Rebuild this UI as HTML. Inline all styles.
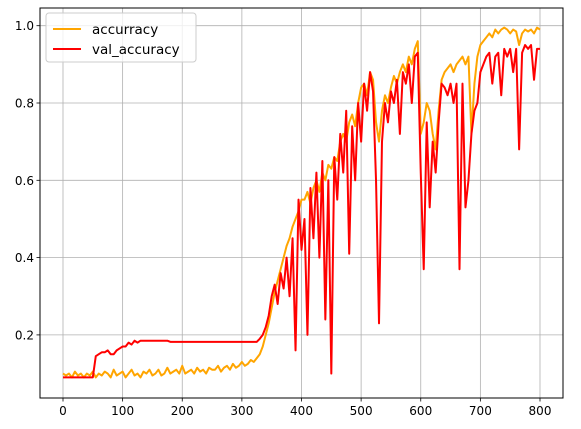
<!DOCTYPE html>
<html><head><meta charset="utf-8"><style>
body{margin:0;background:#fff}
svg{display:block;font-family:"DejaVu Sans","Liberation Sans",sans-serif}
</style></head><body>
<svg id="chart" width="581" height="429" viewBox="0 0 581 429"></svg>
<script>
const epochs=[];for(let e=0;e<=800;e+=5)epochs.push(e);
const accuracy=[0.10,0.095,0.10,0.09,0.105,0.095,0.10,0.09,0.10,0.095,0.105,
0.09,0.10,0.095,0.105,0.10,0.09,0.11,0.095,0.10,0.105,0.09,0.10,0.11,0.095,0.10,0.09,0.105,0.10,0.11,0.095,
0.10,0.11,0.095,0.10,0.115,0.10,0.105,0.11,0.10,0.12,0.10,0.105,0.11,0.10,0.115,0.105,0.11,0.10,0.115,0.11,
0.11,0.12,0.105,0.115,0.12,0.11,0.125,0.115,0.12,0.13,0.12,0.125,0.135,0.13,0.14,0.15,
0.17,0.20,0.23,0.27,0.31,0.34,0.37,0.40,0.43,0.45,0.48,0.50,0.52,0.55,
0.55,0.57,0.54,0.58,0.60,0.57,0.62,0.60,0.64,0.63,0.66,0.65,0.70,0.72,0.70,0.75,0.77,0.74,0.80,0.84,
0.85,0.82,0.88,0.86,0.75,0.70,0.78,0.82,0.80,0.84,0.87,0.85,0.88,0.90,0.88,0.92,0.90,0.94,0.96,0.72,
0.75,0.80,0.78,0.72,0.68,0.78,0.86,0.88,0.89,0.90,0.88,0.90,0.91,0.92,0.90,0.92,0.72,0.85,0.92,0.95,
0.96,0.97,0.98,0.97,0.99,0.98,0.99,0.995,0.99,0.98,0.99,0.985,0.95,0.98,0.99,0.985,0.99,0.98,0.995,0.99];
const valAccuracy=[0.09,0.09,0.09,0.09,0.09,0.09,0.09,0.09,0.09,0.09,0.09,
0.145,0.15,0.155,0.155,0.16,0.15,0.15,0.16,0.165,0.17,0.17,0.18,0.175,0.185,0.18,0.185,0.185,0.185,0.185,0.185,
0.185,0.185,0.185,0.185,0.185,0.182,0.182,0.182,0.182,0.182,0.182,0.182,0.182,0.182,0.182,0.182,0.182,0.182,0.182,0.182,
0.182,0.182,0.182,0.182,0.182,0.182,0.182,0.182,0.182,0.182,0.182,0.182,0.182,0.182,0.182,0.19,
0.20,0.22,0.25,0.30,0.33,0.28,0.36,0.32,0.40,0.30,0.45,0.16,0.55,0.42,
0.50,0.20,0.58,0.45,0.62,0.40,0.65,0.24,0.60,0.10,0.66,0.55,0.72,0.62,0.78,0.41,0.74,0.60,0.80,0.70,
0.85,0.78,0.88,0.83,0.60,0.23,0.70,0.80,0.75,0.83,0.80,0.86,0.72,0.88,0.85,0.90,0.80,0.92,0.93,0.62,
0.37,0.75,0.53,0.70,0.62,0.75,0.85,0.84,0.82,0.85,0.80,0.85,0.37,0.85,0.53,0.60,0.72,0.78,0.80,0.88,
0.90,0.92,0.93,0.85,0.92,0.93,0.82,0.94,0.92,0.94,0.88,0.94,0.68,0.93,0.95,0.94,0.95,0.86,0.94,0.94];
const xTicks=[0,100,200,300,400,500,600,700,800];
const yTicks=[0.2,0.4,0.6,0.8,1.0];
const yTickLabels=["0.2","0.4","0.6","0.8","1.0"];

const L=40,R=563,T=8,B=398;
const X=v=>63+v*(540-63)/800;
const Y=v=>25.7+(1-v)*386.5;
const svg=document.getElementById('chart');
const NS='http://www.w3.org/2000/svg';
function mk(tag,attrs,parent){const e=document.createElementNS(NS,tag);for(const k in attrs)e.setAttribute(k,attrs[k]);(parent||svg).appendChild(e);return e;}

const grid=mk('g',{});


xTicks.forEach(t=>{
  const l=mk('line',{x1:X(t),x2:X(t),y1:T,y2:B,stroke:'#b0b0b0','stroke-width':0.8},grid);
  
  
  const tk=mk('line',{x1:X(t),x2:X(t),y1:B,y2:B+3.5,stroke:'#000','stroke-width':0.8});
  
  
  const tx=mk('text',{x:X(t),y:B+17,'text-anchor':'middle','font-size':12});
  tx.textContent=t;
  
  
});
yTicks.forEach((t,i)=>{
  const l=mk('line',{x1:L,x2:R,y1:Y(t),y2:Y(t),stroke:'#b0b0b0','stroke-width':0.8},grid);
  
  
  const tk=mk('line',{x1:L-3.5,x2:L,y1:Y(t),y2:Y(t),stroke:'#000','stroke-width':0.8});
  
  
  const tx=mk('text',{x:L-6,y:Y(t)+4.5,'text-anchor':'end','font-size':12});
  tx.textContent=yTickLabels[i];
  
  
});
function series(vals,color,name){
  const d=vals.map((v,i)=>(i?'L':'M')+X(epochs[i]).toFixed(2)+' '+Y(v).toFixed(2)).join('');
  const p=mk('path',{d:d,fill:'none',stroke:color,'stroke-width':2,'stroke-linejoin':'round'});
  
  
}
series(accuracy,'#ffa500','accuracy-line');
series(valAccuracy,'#ff0000','val-accuracy-line');
const frame=mk('rect',{x:L,y:T,width:R-L,height:B-T,fill:'none',stroke:'#000','stroke-width':1});



const lg=mk('g',{});


mk('rect',{x:46,y:13,width:150,height:49,rx:3,fill:'#fff','fill-opacity':0.8,stroke:'#ccc'},lg);
[['accurracy','#ffa500',29],['val_accuracy','#ff0000',49]].forEach(([lab,c,y])=>{
  const e=mk('g',{},lg);
  
  
  mk('line',{x1:53,x2:81,y1:y,y2:y,stroke:c,'stroke-width':2},e);
  const t=mk('text',{x:92,y:y+5,'font-size':13.5},e);
  t.textContent=lab;
});
</script>
</body></html>
